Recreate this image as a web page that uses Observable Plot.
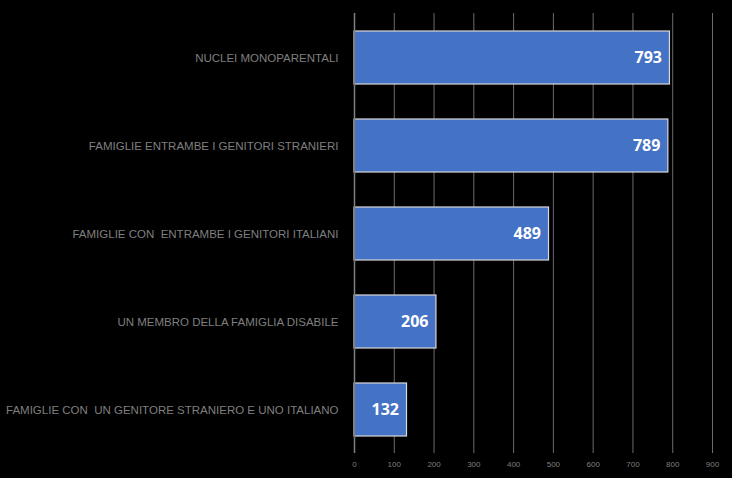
<!DOCTYPE html>
<html><head><meta charset="utf-8">
<script src="https://cdn.jsdelivr.net/npm/d3@7"></script>
<script src="https://cdn.jsdelivr.net/npm/@observablehq/plot@0.6"></script>
<style>
html,body{margin:0;padding:0;background:#000;}
#chart{width:732px;height:478px;}
</style></head>
<body><div id="chart"></div>
<script>
const categories = [
  "NUCLEI MONOPARENTALI",
  "FAMIGLIE ENTRAMBE I GENITORI STRANIERI",
  "FAMIGLIE CON  ENTRAMBE I GENITORI ITALIANI",
  "UN MEMBRO DELLA FAMIGLIA DISABILE",
  "FAMIGLIE CON  UN GENITORE STRANIERO E UNO ITALIANO"
];
const values = [793, 789, 489, 206, 132];
const xTicks = [0, 100, 200, 300, 400, 500, 600, 700, 800, 900];

const data = categories.map((c, i) => ({category: c, value: values[i]}));

const chart = Plot.plot({
  width: 732,
  height: 478,
  marginLeft: 354,
  marginRight: 20,
  marginTop: 13,
  marginBottom: 25,
  style: {background: "#000", fontFamily: "'Liberation Sans', sans-serif"},
  x: {domain: [0, 900], ticks: xTicks, label: null},
  y: {domain: categories, paddingInner: 0.4, paddingOuter: 0.2, label: null},
  marks: [
    Plot.gridX(xTicks.slice(1), {stroke: "#9a9a9a", strokeOpacity: 0.7, strokeWidth: 1}),
    Plot.barX(data, {x: "value", y: "category", fill: "#4472C4", stroke: "#d9d9d9", strokeWidth: 1.2}),
    Plot.ruleX([0], {stroke: "#7f7f7f", strokeWidth: 1.5}),
    Plot.text(data, {x: "value", y: "category", text: d => String(d.value), textAnchor: "end", dx: -8, fill: "#fff", fontWeight: "bold", fontSize: 16, fontFamily: "'Open Sans', 'Liberation Sans', sans-serif"}),
    Plot.axisX({ticks: xTicks, tickSize: 0, tickPadding: 8, fill: "#7f7f7f", fontSize: 8, label: null, tickFormat: d => String(d)}),
    Plot.axisY({tickSize: 0, tickPadding: 16, fill: "#7f7f7f", fontSize: 11.5, label: null})
  ]
});
document.getElementById("chart").appendChild(chart);
</script>
</body></html>
